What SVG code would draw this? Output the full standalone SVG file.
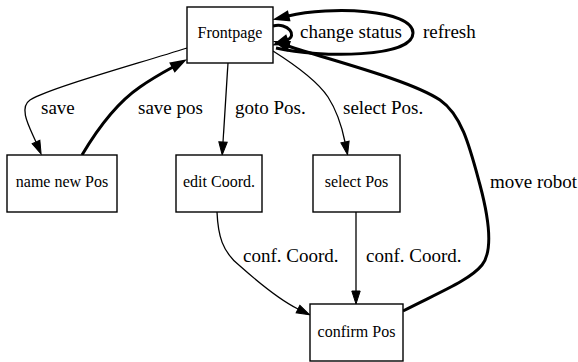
<svg xmlns="http://www.w3.org/2000/svg" width="578" height="362" viewBox="0 0 578 362">
  <style>
    .node rect { fill: #ffffff; stroke: #000000; stroke-width: 1.4; }
    .node text { font-size: 16px; fill: #000000; text-anchor: middle; }
    .edge { fill: none; stroke: #000000; stroke-width: 1.3; }
    .edge.bold { stroke-width: 3; }
    .thin { marker-end: url(#arrow); }
    .bold { marker-end: url(#arrowBold); }
    .elabel { font-size: 19px; fill: #000000; }
  </style>
  <defs>
    <marker id="arrow" markerUnits="userSpaceOnUse" markerWidth="14" markerHeight="10" viewBox="0 0 14 10" refX="0" refY="5" orient="auto" overflow="visible">
      <path d="M0,0.8 L13,5 L0,9.2 z" fill="#000000" stroke="#000000" stroke-width="1"/>
    </marker>
    <marker id="arrowBold" markerUnits="userSpaceOnUse" markerWidth="14" markerHeight="10" viewBox="0 0 14 10" refX="0" refY="5" orient="auto" overflow="visible">
      <path d="M0,1 L12,5 L0,9 z" fill="#000000" stroke="#000000" stroke-width="2.5" stroke-linejoin="miter"/>
    </marker>
  </defs>

  <g font-family="Liberation Serif, DejaVu Serif, serif">
  <!-- connectors -->
  <g id="edges">
    <path class="edge thin" d="M187,48 C130,66 50,88 30,100 C18,108 30,128 36,142"/>
    <path class="edge bold" d="M82,155 C98,128 118,102 140,87 C150,80 162,73 173,67"/>
    <path class="edge thin" d="M228,63 L223,142"/>
    <path class="edge thin" d="M273,51 C300,68 318,82 328,97 C337,111 342,127 345,142"/>
    <path class="edge thin" d="M217,212 C218,235 222,252 240,266 C258,282 280,300 298,309"/>
    <path class="edge thin" d="M356,212 L356,291"/>
    <path class="edge bold" d="M403,311 C440,292 470,280 482,265 C494,250 488,215 480,185 C470,148 462,115 440,100 C410,80 330,60 288,46"/>
    <path class="edge bold" d="M276,48 C320,58 413,58 413,33 C413,9 330,6 288,16"/>
    <path class="edge bold" d="M273,26 C288,22 298,36 287,40"/>

    <text class="elabel" x="41" y="114">save</text>
    <text class="elabel" x="138" y="114">save pos</text>
    <text class="elabel" x="235" y="114">goto Pos.</text>
    <text class="elabel" x="343" y="114">select Pos.</text>
    <text class="elabel" x="300" y="38">change status</text>
    <text class="elabel" x="423" y="38">refresh</text>
    <text class="elabel" x="490" y="188">move robot</text>
    <text class="elabel" x="243" y="262">conf. Coord.</text>
    <text class="elabel" x="366" y="262">conf. Coord.</text>
  </g>

  <!-- nodes -->
  <g id="frontpage" class="node">
    <rect x="187" y="7" width="86" height="56"/>
    <text x="230" y="38">Frontpage</text>
  </g>
  <g id="name_new_pos" class="node">
    <rect x="7" y="155" width="110" height="57"/>
    <text x="62" y="187">name new Pos</text>
  </g>
  <g id="edit_coord" class="node">
    <rect x="176" y="155" width="86" height="57"/>
    <text x="219" y="187">edit Coord.</text>
  </g>
  <g id="select_pos" class="node">
    <rect x="313" y="155" width="87" height="57"/>
    <text x="356.5" y="187">select Pos</text>
  </g>
  <g id="confirm_pos" class="node">
    <rect x="310" y="304" width="93" height="57"/>
    <text x="356.5" y="337">confirm Pos</text>
  </g>
  </g>
</svg>
